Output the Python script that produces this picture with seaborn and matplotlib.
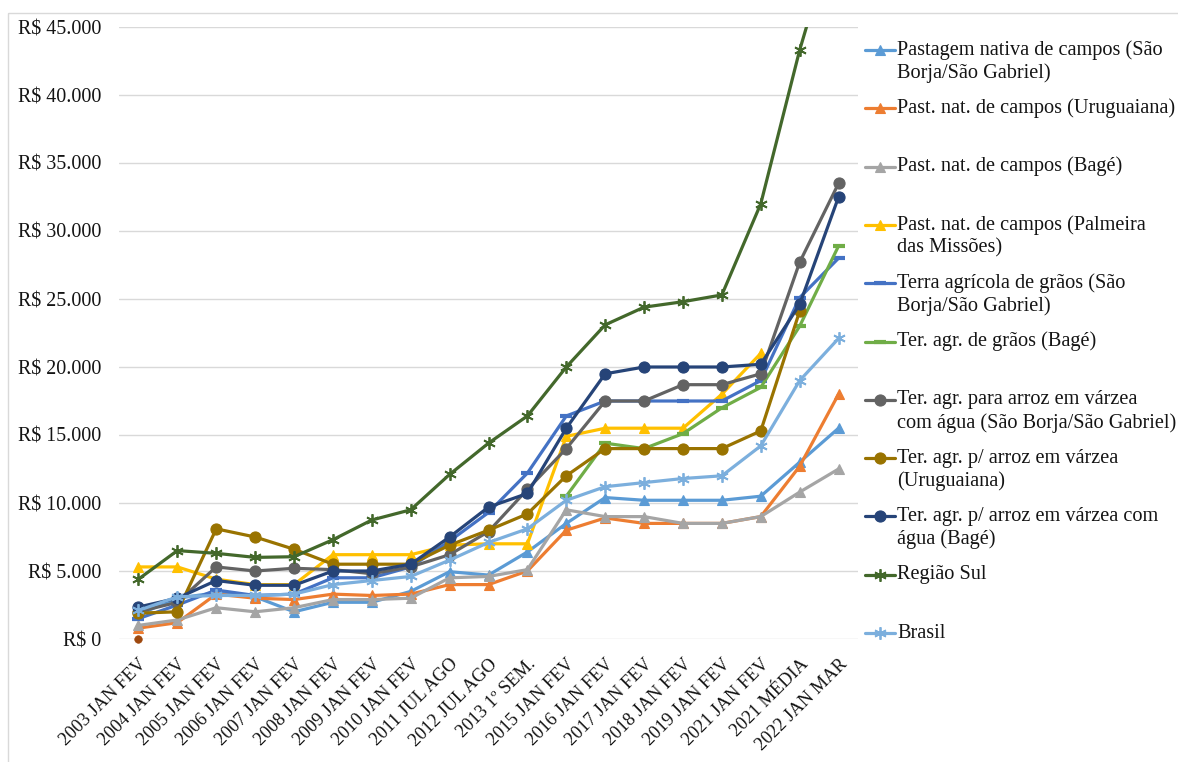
import numpy as np
import pandas as pd
import matplotlib
matplotlib.use("Agg")
import matplotlib.pyplot as plt
from matplotlib.ticker import FuncFormatter
from matplotlib.patches import Rectangle
import seaborn as sns

# ---------------------------------------------------------------- data
periods = ["2003 JAN FEV", "2004 JAN FEV", "2005 JAN FEV", "2006 JAN FEV",
           "2007 JAN FEV", "2008 JAN FEV", "2009 JAN FEV", "2010 JAN FEV",
           "2011 JUL AGO", "2012 JUL AGO", "2013 1º SEM.", "2015 JAN FEV",
           "2016 JAN FEV", "2017 JAN FEV", "2018 JAN FEV", "2019 JAN FEV",
           "2021 JAN FEV", "2021 MÉDIA", "2022 JAN MAR"]

nan = np.nan
past_sb_sg = [1800, 3000, 3400, 3100, 2000, 2700, 2700, 3500, 4950, 4700,
              6400, 8500, 10400, 10200, 10200, 10200, 10500, 13000, 15500]
past_uruguaiana = [800, 1200, 3300, 3000, 2900, 3300, 3200, 3300, 4000, 4000,
                   5000, 8000, 8900, 8500, 8500, 8500, 9000, 12700, 18000]
past_bage = [1000, 1400, 2300, 2000, 2300, 2900, 2900, 3000, 4500, 4600,
             5100, 9500, 9000, 9000, 8500, 8500, 9000, 10800, 12500]
past_palmeira = [5300, 5300, 4400, 4000, 4000, 6200, 6200, 6200, 6900, 7000,
                 7000, 14900, 15500, 15500, 15500, 18000, 21000, nan, nan]
graos_sb_sg = [1500, 2500, 3600, 3200, 3300, 4500, 4500, 5300, 7200, 9300,
               12200, 16400, 17500, 17500, 17500, 17500, 19000, 25100, 28000]
graos_bage = [nan, nan, nan, nan, nan, nan, nan, nan, nan, nan,
              nan, 10500, 14400, 14000, 15100, 17000, 18500, 23000, 28900]
arroz_sb_sg = [2000, 2700, 5300, 5000, 5200, 5100, 4800, 5300, 6200, 7900,
               11000, 14000, 17500, 17500, 18700, 18700, 19500, 27700, 33500]
arroz_uruguaiana = [1900, 2000, 8100, 7500, 6600, 5500, 5500, 5500, 6900, 8000,
                    9200, 12000, 14000, 14000, 14000, 14000, 15300, 24100, nan]
arroz_bage = [2350, 3000, 4300, 3950, 3950, 5000, 5000, 5500, 7500, 9700,
              10700, 15500, 19500, 20000, 20000, 20000, 20200, 24600, 32500]
regiao_sul = [4400, 6500, 6300, 6000, 6050, 7300, 8750, 9500, 12100, 14400,
              16400, 20000, 23100, 24400, 24800, 25300, 32000, 43300, 53000]
brasil = [2100, 3100, 3200, 3200, 3300, 4000, 4300, 4600, 5800, 7100,
          8100, 10200, 11200, 11500, 11800, 12000, 14200, 19000, 22100]
extra_point = [0]  # single point at the first period

labels = ["Pastagem nativa de campos (São\nBorja/São Gabriel)",
          "Past. nat. de campos (Uruguaiana)",
          "Past. nat. de campos (Bagé)",
          "Past. nat. de campos (Palmeira\ndas Missões)",
          "Terra agrícola de grãos (São\nBorja/São Gabriel)",
          "Ter. agr. de grãos (Bagé)",
          "Ter. agr. para arroz em várzea\ncom água (São Borja/São Gabriel)",
          "Ter. agr. p/ arroz em várzea\n(Uruguaiana)",
          "Ter. agr. p/ arroz em várzea com\nágua (Bagé)",
          "Região Sul",
          "Brasil"]
series = [past_sb_sg, past_uruguaiana, past_bage, past_palmeira, graos_sb_sg,
          graos_bage, arroz_sb_sg, arroz_uruguaiana, arroz_bage, regiao_sul, brasil]

# ---------------------------------------------------------------- styles
colors = ["#5B9BD5", "#ED7D31", "#A5A5A5", "#FFC000", "#4472C4", "#70AD47",
          "#636363", "#997300", "#264478", "#43682B", "#7CAFDD"]
star = (6, 2, 0)
markers = ["^", "^", "^", "^", "_", "_", "o", "o", "o", star, star]
msizes = [7.5, 7.5, 7.5, 7.5, 9, 9, 8, 8, 8, 9, 9]

sns.set_theme(style="white")
plt.rcParams["font.family"] = ["Liberation Serif", "DejaVu Serif"]
text_color = "#141414"

W, H = 1178, 762
fig = plt.figure(figsize=(W / 100, H / 100), dpi=100)
ax = fig.add_axes([119 / W, 1 - 639 / H, (858 - 119) / W, (639 - 27) / H])

x = np.arange(len(periods))
for vals, lab, col, mk, ms in zip(series, labels, colors, markers, msizes):
    df = pd.DataFrame({"periodo": x, "valor": vals}).dropna()
    mew = 3 if mk == "_" else (1.3 if mk == star else 0.8)
    sns.lineplot(data=df, x="periodo", y="valor", ax=ax, color=col,
                 linewidth=2.3, marker=mk, markersize=ms, markeredgecolor=col,
                 markerfacecolor=col, markeredgewidth=mew, sort=False,
                 legend=False, zorder=3)

sns.scatterplot(x=x[:1], y=extra_point, ax=ax, color="#9E480E", s=30,
                edgecolor="#9E480E", legend=False, zorder=4, clip_on=False)

ax.set_xlim(-0.5, len(periods) - 0.5)
ax.set_ylim(0, 45000)
ax.set_yticks(np.arange(0, 45001, 5000))
ax.yaxis.set_major_formatter(
    FuncFormatter(lambda v, _: "R$ " + f"{int(v):,}".replace(",", ".")))
ax.set_xticks(x)
ax.set_xticklabels(periods, rotation=45, ha="right", rotation_mode="anchor")
ax.tick_params(axis="y", length=0, pad=13, labelsize=14.4, labelcolor=text_color)
ax.tick_params(axis="x", length=0, pad=12, labelsize=13.2, labelcolor=text_color)
ax.grid(axis="y", color="#D9D9D9", linewidth=1)
ax.grid(axis="x", visible=False)
for s in ax.spines.values():
    s.set_visible(False)
ax.set_xlabel("")
ax.set_ylabel("")

# ---------------------------------------------------------------- legend + frame
lax = fig.add_axes([0, 0, 1, 1], zorder=5)
lax.set_xlim(0, W)
lax.set_ylim(H, 0)
lax.axis("off")
lax.patch.set_alpha(0)
lax.add_patch(Rectangle((8, 13), W + 20, H + 20, fill=False,
                        edgecolor="#D9D9D9", linewidth=1))

y0, dy, line_h = 50, 58.3, 23
for i, (lab, col, mk, ms) in enumerate(zip(labels, colors, markers, msizes)):
    yy = y0 + i * dy
    mew = 3 if mk == "_" else (1.3 if mk == star else 0.8)
    lax.plot([865, 895], [yy, yy], color=col, linewidth=2.3)
    lax.plot([880], [yy], linestyle="none", marker=mk, markersize=ms,
             color=col, markeredgecolor=col, markeredgewidth=mew)
    for j, part in enumerate(lab.split("\n")):
        lax.text(897, yy + j * line_h, part, va="center", ha="left",
                 fontsize=14.6, color=text_color)

fig.savefig("out.png", dpi=100)
